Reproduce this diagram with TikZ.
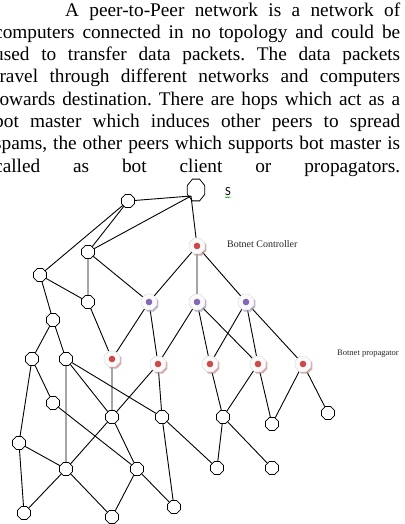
\documentclass[tikz,border=0pt]{standalone}
\usepackage{fontspec}
\setmainfont{Liberation Serif}
\newfontfamily\labelsans{Carlito}
\usepackage{xcolor}
\usetikzlibrary{shapes.geometric,shadows,backgrounds,decorations.pathmorphing}

\definecolor{botred}{RGB}{205,72,72}
\definecolor{botviolet}{RGB}{132,102,182}

\begin{document}
\begin{tikzpicture}[
    x=1pt, y=-1pt,
    peer/.style={regular polygon, regular polygon sides=8, draw=black, line width=0.8pt, fill=white, minimum size=14pt, inner sep=0pt},
    source/.style={regular polygon, regular polygon sides=8, draw=black, line width=0.8pt, minimum size=23.5pt, inner sep=0pt},
    bot/.style={regular polygon, regular polygon sides=8, draw=gray!30, line width=0.5pt, fill=gray!4, minimum size=17pt, inner sep=0pt,
        drop shadow={shadow xshift=1.5pt, shadow yshift=-1.7pt, fill=#1!50!gray!70, opacity=0.75},
        path picture={\fill[#1] (path picture bounding box.center) circle (3.3pt);}},
    link/.style={line width=0.9pt, black},
    caption/.style={anchor=base west, inner sep=0pt, text=black!85}
]
\useasboundingbox (0,0) rectangle (404,524);
\clip (0,0) rectangle (404,524);

% Paragraph above the figure
\node[anchor=north west, inner sep=0pt, text width=406pt, align=justify,
      font=\fontsize{19.3pt}{22.3pt}\selectfont] (para) at (-6,2.3) {%
  \frenchspacing\parfillskip=0pt \tolerance=9999 \hbadness=10000
  \hspace*{71pt}A peer-to-Peer network is a network of\linebreak
  computers connected in no topology and could be\linebreak
  used to transfer data packets. The data packets\linebreak
  travel through different networks and computers\linebreak
  towards destination. There are hops which act as a\linebreak
  bot master which induces other peers to spread\linebreak
  spams, the other peers which supports bot master is\linebreak
  called as bot client or propagators.\par};

% Source and botnet nodes
\begin{scope}[shift={(196,190)}, xscale=0.8]
  \node[source, transform shape] (src) at (0,0) {};
\end{scope}
\coordinate (sjoin) at (191,196);
\node[font=\labelsans\fontsize{12.5pt}{14pt}\selectfont, inner sep=0pt] (slabel) at (228,191) {S};
\draw[green!55!black, line width=0.4pt, decorate, decoration={snake, amplitude=0.5pt, segment length=2pt}]
  ([yshift=-2pt]slabel.south west) -- ([yshift=-2pt]slabel.south east);

\node[bot=botred] (ctrl) at (197,246) {};
\node[caption, font=\fontsize{10pt}{12pt}\selectfont] (ctrllabel) at (227,247) {Botnet Controller};

\node[bot=botviolet] (cmd1) at (149,302) {};
\node[bot=botviolet] (cmd2) at (197,302) {};
\node[bot=botviolet] (cmd3) at (246,302) {};

\node[bot=botred] (prop1) at (112,359) {};
\node[bot=botred] (prop2) at (158,364) {};
\node[bot=botred] (prop3) at (210,364) {};
\node[bot=botred] (prop4) at (258,364) {};
\node[bot=botred] (prop5) at (303,364) {};
\node[caption, font=\fontsize{8.5pt}{10pt}\selectfont] (proplabel) at (337,355) {Botnet propagator};

% Ordinary peers
\node[peer] (p1) at (128,201) {};
\node[peer] (p2) at (88,252) {};
\node[peer] (p3) at (40,275) {};
\node[peer] (p4) at (88,302) {};
\node[peer] (p5) at (53,320) {};
\node[peer] (p6) at (32,359) {};
\node[peer] (p7) at (66,359) {};
\node[peer] (p8) at (53,403) {};
\node[peer] (p9) at (112,417) {};
\node[peer] (p10) at (162,417) {};
\node[peer] (p11) at (223,417) {};
\node[peer] (p12) at (272,424) {};
\node[peer] (p13) at (328,413) {};
\node[peer] (p14) at (19,443) {};
\node[peer] (p15) at (66,469) {};
\node[peer] (p16) at (137,469) {};
\node[peer] (p17) at (217,468) {};
\node[peer] (p18) at (272,468) {};
\node[peer] (p19) at (24,513) {};
\node[peer] (p20) at (112,517) {};
\node[peer] (p21) at (174,507) {};

\begin{scope}[on background layer]
% Links from the source
\draw[link] (p1) -- (sjoin) (p2) -- (sjoin) (sjoin) -- (ctrl);
\draw[link] (p1) -- (p2) (p1) -- (p3) (p2) -- (p4) (p2) -- (cmd1) (p3) -- (p4) (p3) -- (p5);

% Botnet hierarchy
\draw[link] (ctrl) -- (cmd1) (ctrl) -- (cmd2) (ctrl) -- (cmd3);
\draw[link] (p4) -- (prop1) (cmd1) -- (prop1) (cmd1) -- (prop2);
\draw[link] (cmd2) -- (prop2) (cmd2) -- (prop3) (cmd2) -- (prop4);
\draw[link] (cmd3) -- (prop3) (cmd3) -- (prop4) (cmd3) -- (prop5);

% Lower peer mesh
\draw[link] (p5) -- (p6) (p5) -- (p7) (p6) -- (p14) (p6) -- (p8);
\draw[link] (p7) -- (p15) (p7) -- (p9) (p7) -- (p10);
\draw[link] (prop1) -- (p9) (prop2) -- (p9) (prop2) -- (p10);
\draw[link] (p8) -- (p16) (p14) -- (p15) (p14) -- (p19);
\draw[link] (p9) -- (p15) (p9) -- (p16) (p15) -- (p19) (p15) -- (p20);
\draw[link] (p16) -- (p20) (p16) -- (p21) (p10) -- (p21) (p10) -- (p17);
\draw[link] (prop3) -- (p11) (prop4) -- (p11) (prop4) -- (p12);
\draw[link] (prop5) -- (p12) (prop5) -- (p13) (p11) -- (p17) (p11) -- (p18);
\end{scope}

\end{tikzpicture}
\end{document}
